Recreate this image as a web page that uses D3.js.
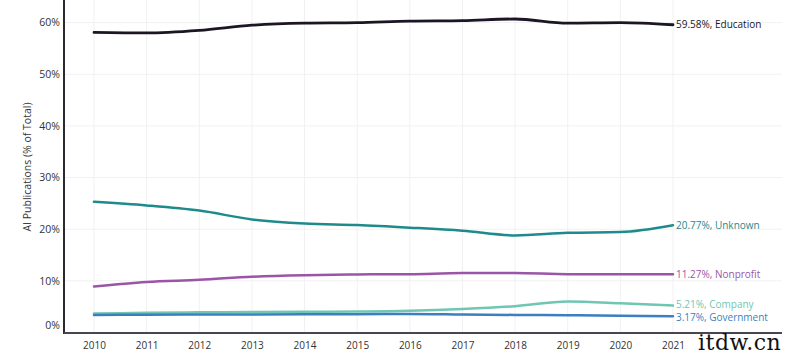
<!DOCTYPE html>
<html><head><meta charset="utf-8">
<script src="https://cdn.jsdelivr.net/npm/d3@7"></script>
<style>body{margin:0;background:#fff;} svg{display:block;}</style>
</head><body><svg id="c" width="800" height="355"></svg>
<script>
const years = [2010,2011,2012,2013,2014,2015,2016,2017,2018,2019,2020,2021];
const education  = [58.1,58.0,58.5,59.5,59.9,60.0,60.3,60.4,60.7,59.9,60.0,59.58];
const unknown    = [25.3,24.6,23.6,21.9,21.1,20.8,20.3,19.7,18.8,19.3,19.45,20.77];
const nonprofit  = [8.9,9.8,10.2,10.8,11.1,11.25,11.3,11.5,11.5,11.3,11.3,11.27];
const company    = [3.7,3.8,3.9,3.95,4.0,4.05,4.2,4.55,5.1,6.0,5.67,5.21];
const government = [3.4,3.45,3.5,3.5,3.55,3.55,3.6,3.5,3.4,3.35,3.25,3.17];
const seriesNames = ["Education","Unknown","Nonprofit","Company","Government"];
const seriesColors = ["#1c1523","#1f8a8c","#9b55a6","#6fc7b3","#3b7fc1"];
const yTicks = [0,10,20,30,40,50,60];

const series = [education, unknown, nonprofit, company, government];
const labelNudge = [0, 0, 0, -1, 1];
const svg = d3.select("#c");
const font = "'Open Sans', sans-serif";
const x = d3.scalePoint().domain(years).range([94, 673]);
const y = d3.scaleLinear().domain([0, 60]).range([332.5, 22.6]);
const left = 64, right = 782, bottom = 333;

// grid
svg.append("g").selectAll("line").data(yTicks).join("line")
  .attr("x1", left).attr("x2", right).attr("y1", d => y(d)).attr("y2", d => y(d))
  .attr("stroke", "#f1f1f3").attr("stroke-width", 1);
svg.append("g").selectAll("line").data(years).join("line")
  .attr("x1", d => x(d)).attr("x2", d => x(d)).attr("y1", 0).attr("y2", bottom)
  .attr("stroke", "#f1f1f3").attr("stroke-width", 1);

// y axis
const ya = svg.append("g").attr("transform", `translate(${left},0)`)
  .call(d3.axisLeft(y).tickValues(yTicks).tickFormat(d => d + "%").tickSize(0).tickPadding(4));
ya.select(".domain").remove();
ya.selectAll("text").attr("font-family", font).attr("font-size", 10.5).attr("fill", "#333")
  .attr("dy", d => d === 0 ? "-0.35em" : "0.32em");
svg.append("line").attr("x1", left).attr("x2", left).attr("y1", 0).attr("y2", bottom + 1)
  .attr("stroke", "#2d2930").attr("stroke-width", 2);

// x axis
const xa = svg.append("g").attr("transform", `translate(0,${bottom})`)
  .call(d3.axisBottom(x).tickSize(0).tickPadding(9).tickFormat(d3.format("d")));
xa.select(".domain").remove();
xa.selectAll("text").attr("font-family", font).attr("font-size", 10).attr("fill", "#333");
svg.append("line").attr("x1", left).attr("x2", right).attr("y1", bottom).attr("y2", bottom)
  .attr("stroke", "#4a4650").attr("stroke-width", 2);

// y title
svg.append("text").attr("transform", "translate(31,167) rotate(-90)")
  .attr("text-anchor", "middle").attr("font-family", font).attr("font-size", 10.5)
  .attr("fill", "#333").text("AI Publications (% of Total)");

// lines
const line = d3.line().x((d, i) => x(years[i])).y(d => y(d)).curve(d3.curveMonotoneX);
series.forEach((s, k) => {
  svg.append("path").datum(s).attr("d", line).attr("fill", "none")
    .attr("stroke", seriesColors[k]).attr("stroke-width", k === 0 ? 2.8 : 2.5).attr("stroke-linecap", "round");
  svg.append("text").attr("x", x(2021) + 3).attr("y", y(s[s.length - 1]) + labelNudge[k])
    .attr("dy", "0.35em").attr("font-family", font).attr("font-size", 10)
    .attr("fill", seriesColors[k])
    .text(d3.format(".2f")(s[s.length - 1]) + "%, " + seriesNames[k]);
});

// watermark
svg.append("text").attr("x", 698).attr("y", 350).attr("font-family", "'DejaVu Serif', serif")
  .attr("font-size", 22).attr("letter-spacing", 0.5).attr("fill", "#111").text("itdw.cn");
</script></body></html>
